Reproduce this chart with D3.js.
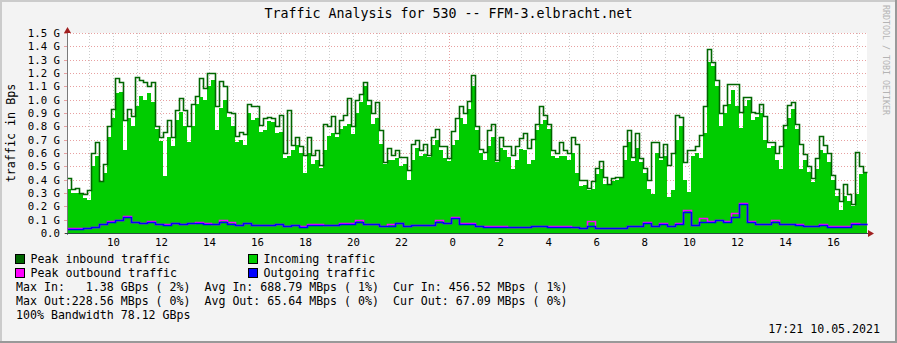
<!DOCTYPE html>
<html>
<head>
<meta charset="utf-8">
<script src="https://cdn.jsdelivr.net/npm/d3@7"></script>
<style>
  html, body { margin: 0; padding: 0; background: #f3f3f3; }
  svg { display: block; font-family: "DejaVu Sans Mono", monospace; }
  text { white-space: pre; }
</style>
</head>
<body>
<svg id="chart" width="897" height="343"></svg>
<script>
// time base: first sample 09.05.2021 08:04, inbound every 10 min, outbound every 20 min
const startTime = Date.UTC(2021, 4, 9, 8, 4);
const spanMinutes = 2000;
const inStepMin = 10;
const outStepMin = 20;

// values in G(Bps)
const peakIn = [
  0.41, 0.33, 0.34, 0.30, 0.29, 0.32, 0.60, 0.68, 0.39, 0.52,
  0.80, 0.93, 1.16, 1.13, 0.85, 0.93, 0.88, 1.17, 1.15, 1.135,
  1.10, 1.13, 0.80, 0.72, 0.76, 0.85, 0.72, 0.92, 1.01, 0.92,
  0.80, 0.97, 1.03, 1.16, 1.085, 1.20, 1.20, 0.95, 1.14, 1.10,
  0.91, 0.90, 0.73, 0.76, 0.74, 0.97, 0.955, 0.95, 0.81, 0.86,
  0.87, 0.86, 0.80, 0.885, 0.60, 0.92, 0.66, 0.72, 0.65, 0.585,
  0.72, 0.585, 0.62, 0.51, 0.82, 0.80, 0.88, 0.75, 0.85, 0.885,
  1.01, 0.80, 1.00, 1.04, 1.13, 1.00, 0.90, 0.98, 0.77, 0.535,
  0.64, 0.585, 0.62, 0.57, 0.57, 0.47, 0.67, 0.70, 0.62, 0.67,
  0.585, 0.72, 0.78, 0.65, 0.65, 0.56, 0.765, 0.86, 0.95, 0.90,
  0.99, 1.185, 0.80, 0.63, 0.61, 0.77, 0.815, 0.55, 0.72, 0.65,
  0.65, 0.585, 0.65, 0.71, 0.75, 0.635, 0.705, 0.82, 0.95, 0.885,
  0.82, 0.62, 0.60, 0.685, 0.62, 0.60, 0.72, 0.67, 0.40, 0.40,
  0.335, 0.39, 0.485, 0.54, 0.42, 0.37, 0.41, 0.42, 0.42, 0.65,
  0.77, 0.57, 0.75, 0.56, 0.485, 0.40, 0.685, 0.685, 0.57, 0.67,
  0.51, 0.60, 0.885, 0.87, 0.535, 0.62, 0.62, 0.65, 0.735, 0.95,
  1.38, 1.28, 1.15, 0.90, 0.96, 1.12, 1.12, 1.12, 0.91, 1.02,
  1.02, 0.91, 0.90, 0.97, 0.88, 0.68, 0.68, 0.60, 0.655, 0.81,
  0.96, 0.985, 0.82, 0.67, 0.59, 0.50, 0.41, 0.56, 0.73, 0.66,
  0.60, 0.435, 0.33, 0.24, 0.37, 0.29, 0.22, 0.61, 0.50, 0.46
];

const avgIn = [
  0.33, 0.30, 0.30, 0.29, 0.26, 0.25, 0.50, 0.58, 0.38, 0.45,
  0.72, 0.86, 1.05, 1.06, 0.62, 0.86, 0.80, 0.95, 1.03, 1.00,
  1.05, 0.98, 0.78, 0.69, 0.43, 0.72, 0.65, 0.85, 0.91, 0.80,
  0.685, 0.80, 0.97, 1.02, 1.00, 1.10, 1.15, 0.77, 0.94, 1.00,
  0.87, 0.80, 0.68, 0.70, 0.66, 0.90, 0.85, 0.86, 0.76, 0.77,
  0.84, 0.83, 0.75, 0.76, 0.56, 0.58, 0.62, 0.66, 0.60, 0.45,
  0.60, 0.52, 0.55, 0.49, 0.62, 0.73, 0.75, 0.72, 0.78, 0.80,
  0.82, 0.74, 0.90, 0.98, 1.10, 0.96, 0.82, 0.86, 0.67, 0.52,
  0.55, 0.55, 0.56, 0.50, 0.52, 0.40, 0.55, 0.64, 0.58, 0.59,
  0.57, 0.66, 0.70, 0.62, 0.56, 0.54, 0.66, 0.70, 0.86, 0.82,
  0.93, 1.10, 0.77, 0.60, 0.55, 0.65, 0.72, 0.53, 0.64, 0.62,
  0.57, 0.48, 0.55, 0.63, 0.62, 0.52, 0.55, 0.77, 0.82, 0.85,
  0.78, 0.58, 0.56, 0.58, 0.58, 0.55, 0.60, 0.45, 0.35, 0.36,
  0.32, 0.33, 0.44, 0.48, 0.37, 0.36, 0.39, 0.40, 0.41, 0.55,
  0.68, 0.54, 0.64, 0.53, 0.45, 0.33, 0.29, 0.60, 0.55, 0.58,
  0.27, 0.32, 0.70, 0.80, 0.40, 0.31, 0.58, 0.60, 0.56, 0.75,
  1.28, 1.25, 1.10, 0.80, 0.90, 0.97, 1.07, 0.95, 0.79, 0.95,
  1.00, 0.85, 0.87, 0.90, 0.70, 0.64, 0.65, 0.55, 0.48, 0.78,
  0.86, 0.93, 0.78, 0.48, 0.55, 0.46, 0.38, 0.48, 0.62, 0.60,
  0.53, 0.40, 0.28, 0.17, 0.28, 0.24, 0.20, 0.29, 0.44, 0.455
];

const avgOut = [
  0.033, 0.033, 0.035, 0.045, 0.065, 0.085, 0.095, 0.12, 0.08, 0.075,
  0.085, 0.065, 0.062, 0.072, 0.068, 0.075, 0.077, 0.07, 0.068, 0.08,
  0.07, 0.06, 0.075, 0.06, 0.058, 0.058, 0.066, 0.052, 0.058, 0.048,
  0.062, 0.062, 0.058, 0.058, 0.068, 0.068, 0.08, 0.068, 0.066, 0.052,
  0.052, 0.075, 0.052, 0.06, 0.06, 0.06, 0.085, 0.072, 0.115, 0.068,
  0.068, 0.05, 0.048, 0.048, 0.048, 0.045, 0.042, 0.042, 0.05, 0.052,
  0.048, 0.048, 0.048, 0.045, 0.035, 0.05, 0.038, 0.038, 0.038, 0.038,
  0.052, 0.052, 0.075, 0.05, 0.07, 0.05, 0.07, 0.16, 0.06, 0.08,
  0.085, 0.095, 0.085, 0.12, 0.215, 0.085, 0.068, 0.068, 0.08, 0.068,
  0.068, 0.062, 0.052, 0.052, 0.062, 0.048, 0.048, 0.048, 0.065, 0.067
];

const peakOut = [
  0.036, 0.036, 0.038, 0.048, 0.068, 0.088, 0.098, 0.128, 0.083, 0.078,
  0.088, 0.068, 0.065, 0.075, 0.07, 0.078, 0.085, 0.073, 0.07, 0.095,
  0.08, 0.063, 0.078, 0.063, 0.06, 0.06, 0.068, 0.055, 0.06, 0.05,
  0.065, 0.065, 0.06, 0.06, 0.072, 0.072, 0.095, 0.07, 0.068, 0.055,
  0.068, 0.078, 0.055, 0.063, 0.063, 0.063, 0.10, 0.075, 0.118, 0.075,
  0.078, 0.052, 0.05, 0.05, 0.05, 0.048, 0.045, 0.045, 0.053, 0.055,
  0.05, 0.05, 0.05, 0.048, 0.038, 0.09, 0.04, 0.04, 0.04, 0.04,
  0.055, 0.055, 0.08, 0.052, 0.073, 0.052, 0.073, 0.175, 0.063, 0.11,
  0.09, 0.098, 0.09, 0.15, 0.2286, 0.09, 0.07, 0.07, 0.095, 0.07,
  0.07, 0.065, 0.055, 0.055, 0.065, 0.05, 0.05, 0.05, 0.075, 0.07
];

const yTicks = [0, 0.1, 0.2, 0.3, 0.4, 0.5, 0.6, 0.7, 0.8, 0.9, 1.0, 1.1, 1.2, 1.3, 1.4, 1.5];

const legendItems = [
  { label: "Peak inbound traffic",  color: "#006600", col: 0, row: 0 },
  { label: "Incoming traffic",      color: "#00cc00", col: 1, row: 0 },
  { label: "Peak outbound traffic", color: "#ff00ff", col: 0, row: 1 },
  { label: "Outgoing traffic",      color: "#0000ff", col: 1, row: 1 }
];

const statLines = [
  "Max In:   1.38 GBps ( 2%)  Avg In: 688.79 MBps ( 1%)  Cur In: 456.52 MBps ( 1%)",
  "Max Out:228.56 MBps ( 0%)  Avg Out: 65.64 MBps ( 0%)  Cur Out: 67.09 MBps ( 0%)",
  "100% Bandwidth 78.12 GBps"
];

const titleText = "Traffic Analysis for 530 -- FFM-3.elbracht.net";
const yTitle = "traffic in Bps";
const stampText = "17:21 10.05.2021";
const watermark = "RRDTOOL / TOBI OETIKER";

const W = 897, H = 343;
const plot = { left: 67, right: 867, top: 33, bottom: 233 };

const svg = d3.select("#chart");

// background and 3d frame
svg.append("rect").attr("width", W).attr("height", H).attr("fill", "#f3f3f3");
svg.append("path").attr("d", `M1,${H} V1 H${W}`).attr("fill", "none")
  .attr("stroke", "#cbcbcb").attr("stroke-width", 2);
svg.append("path").attr("d", `M0,${H - 1} H${W - 1} V0`).attr("fill", "none")
  .attr("stroke", "#999999").attr("stroke-width", 2);

const endTime = startTime + spanMinutes * 60000;
const x = d3.scaleUtc().domain([startTime, endTime]).range([plot.left, plot.right]);
const y = d3.scaleLinear().domain([0, 1.5]).range([plot.bottom, plot.top]);

svg.append("rect")
  .attr("x", plot.left).attr("y", plot.top)
  .attr("width", plot.right - plot.left).attr("height", plot.bottom - plot.top)
  .attr("fill", "#ffffff");

// vertical grid (hourly, midnight in major colour)
const g = svg.append("g").attr("shape-rendering", "crispEdges");
const hours = d3.utcHour.range(new Date(startTime), new Date(endTime));
g.selectAll(".vgrid").data(hours).enter().append("line")
  .attr("x1", d => Math.round(x(d)) + 0.5).attr("x2", d => Math.round(x(d)) + 0.5)
  .attr("y1", plot.top).attr("y2", plot.bottom)
  .attr("stroke", d => d.getUTCHours() === 0 ? "#e8a0a0" : "#cccccc")
  .attr("stroke-dasharray", "1,2");

// horizontal grid
g.selectAll(".hgrid").data(yTicks.slice(1)).enter().append("line")
  .attr("x1", plot.left).attr("x2", plot.right)
  .attr("y1", d => Math.round(y(d)) + 0.5).attr("y2", d => Math.round(y(d)) + 0.5)
  .attr("stroke", "#e8a0a0")
  .attr("stroke-dasharray", "1,2");

// small ticks left of the y axis
g.selectAll(".ytick").data(yTicks).enter().append("line")
  .attr("x1", plot.left - 3).attr("x2", plot.left)
  .attr("y1", d => Math.round(y(d)) + 0.5).attr("y2", d => Math.round(y(d)) + 0.5)
  .attr("stroke", "#e8a0a0");

// series
function toSeries(values, stepMin) {
  const pts = values.map((v, i) => ({ t: startTime + i * stepMin * 60000, v: v }));
  pts.push({ t: startTime + values.length * stepMin * 60000, v: values[values.length - 1] });
  return pts;
}

const area = d3.area().curve(d3.curveStepAfter)
  .x(d => Math.round(x(d.t))).y0(y(0)).y1(d => Math.round(y(d.v)));
// LINE1 look: solid pixel row with a soft anti-aliased edge
const line = d3.line().curve(d3.curveStepAfter)
  .x(d => Math.round(x(d.t)) + 0.5).y(d => Math.round(y(d.v)) + 0.5);

svg.append("path").datum(toSeries(avgIn, inStepMin))
  .attr("d", area).attr("fill", "#00cc00").attr("shape-rendering", "crispEdges");

const lines = svg.append("g").attr("fill", "none").attr("stroke-width", 1.6);
lines.append("path").datum(toSeries(peakIn, inStepMin))
  .attr("d", line).attr("stroke", "#006600");
lines.append("path").datum(toSeries(peakOut, outStepMin))
  .attr("d", line).attr("stroke", "#ff00ff");
lines.append("path").datum(toSeries(avgOut, outStepMin))
  .attr("d", line).attr("stroke", "#0000ff");

// axes
const axis = svg.append("g").attr("shape-rendering", "crispEdges");
axis.append("line")
  .attr("x1", plot.left + 0.5).attr("x2", plot.left + 0.5)
  .attr("y1", plot.bottom + 2).attr("y2", plot.top - 4)
  .attr("stroke", "#7a7a7a");
axis.append("line")
  .attr("x1", plot.left - 2).attr("x2", plot.right + 4)
  .attr("y1", plot.bottom + 0.5).attr("y2", plot.bottom + 0.5)
  .attr("stroke", "#2c4d43");
svg.append("path")
  .attr("d", `M${plot.left - 3},${plot.top} L${plot.left + 0.5},${plot.top - 6} L${plot.left + 4},${plot.top} Z`)
  .attr("fill", "#a02020");
svg.append("path")
  .attr("d", `M${plot.right + 1},${plot.bottom - 3} L${plot.right + 7},${plot.bottom + 0.5} L${plot.right + 1},${plot.bottom + 4} Z`)
  .attr("fill", "#a02020");

// y tick labels
svg.append("g").selectAll("text").data(yTicks).enter().append("text")
  .attr("x", 60).attr("y", d => y(d) + 4)
  .attr("text-anchor", "end").attr("font-size", "10.7px").attr("fill", "#000")
  .text(d => d === 0 ? "0.0" : d3.format(".1f")(d) + " G");

// x tick labels every 2 hours, space padded hour
const fmtHour = d3.utcFormat("%_H");
const labelHours = hours.filter(d => d.getUTCHours() % 2 === 0);
svg.append("g").selectAll("text").data(labelHours).enter().append("text")
  .attr("x", d => x(d)).attr("y", 246)
  .attr("text-anchor", "middle").attr("font-size", "10.7px").attr("fill", "#000")
  .text(d => fmtHour(d));

// title
svg.append("text").attr("x", 448.5).attr("y", 18)
  .attr("text-anchor", "middle").attr("font-size", "13.3px").attr("fill", "#000")
  .text(titleText);

// y title
svg.append("text")
  .attr("transform", `translate(15,${(plot.top + plot.bottom) / 2}) rotate(-90)`)
  .attr("text-anchor", "middle").attr("font-size", "11.7px").attr("fill", "#000")
  .text(yTitle);

// watermark
svg.append("text")
  .attr("transform", "translate(883,5) rotate(90)")
  .attr("font-size", "8.3px").attr("fill", "#b4b4b4")
  .text(watermark);

// legend
const legend = svg.append("g");
const colX = [15.5, 248.5];
legendItems.forEach(item => {
  const lx = colX[item.col], ly = 254.5 + item.row * 14;
  legend.append("rect").attr("x", lx).attr("y", ly).attr("width", 9).attr("height", 9)
    .attr("fill", item.color).attr("stroke", "#000").attr("stroke-width", 1);
  legend.append("text").attr("x", lx + 15).attr("y", ly + 8.5)
    .attr("font-size", "11.6px").attr("fill", "#000").text(item.label);
});

statLines.forEach((s, i) => {
  svg.append("text").attr("x", 16).attr("y", 291 + i * 14)
    .attr("font-size", "11.6px").attr("fill", "#000").text(s);
});

svg.append("text").attr("x", 880).attr("y", 333)
  .attr("text-anchor", "end").attr("font-size", "11.6px").attr("fill", "#000")
  .text(stampText);
</script>
</body>
</html>
